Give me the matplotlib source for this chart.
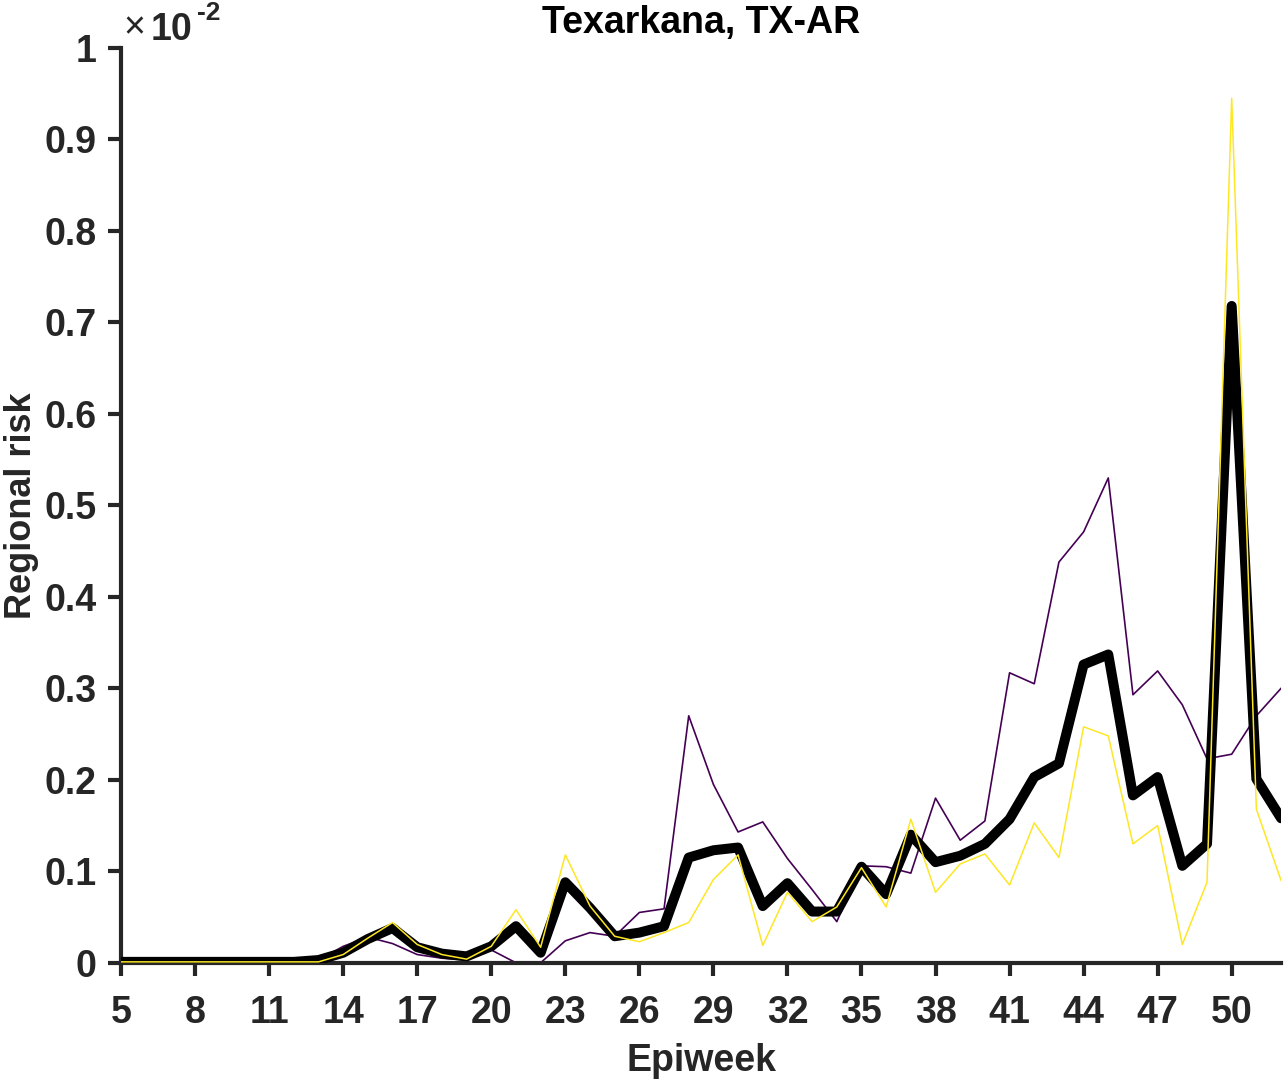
import numpy as np
import matplotlib.pyplot as plt

# Texarkana, TX-AR regional risk (x 1e-2)
weeks = np.arange(5, 53)

mean_risk = [0.001, 0.001, 0.001, 0.001, 0.001, 0.001, 0.001, 0.001,
             0.003, 0.011, 0.026, 0.038, 0.017, 0.010, 0.007, 0.018,
             0.040, 0.011, 0.088, 0.060, 0.029, 0.033, 0.040, 0.115,
             0.123, 0.126, 0.062, 0.087, 0.056, 0.056, 0.105, 0.075,
             0.140, 0.110, 0.117, 0.130, 0.157, 0.203, 0.218, 0.326,
             0.337, 0.183, 0.203, 0.106, 0.130, 0.718, 0.201, 0.158]

upper_risk = [0.001, 0.001, 0.001, 0.001, 0.001, 0.001, 0.001, 0.001,
              0.003, 0.018, 0.028, 0.021, 0.009, 0.005, 0.003, 0.014,
              0.000, 0.000, 0.024, 0.033, 0.029, 0.055, 0.059, 0.270,
              0.195, 0.143, 0.154, 0.114, 0.080, 0.045, 0.106, 0.105,
              0.098, 0.180, 0.134, 0.155, 0.317, 0.305, 0.438, 0.471,
              0.530, 0.293, 0.319, 0.282, 0.223, 0.228, 0.270, 0.300]

lower_risk = [0.001, 0.001, 0.001, 0.001, 0.001, 0.001, 0.001, 0.001,
              0.001, 0.009, 0.027, 0.044, 0.020, 0.009, 0.004, 0.018,
              0.058, 0.017, 0.118, 0.062, 0.029, 0.023, 0.033, 0.044,
              0.091, 0.118, 0.019, 0.077, 0.045, 0.061, 0.104, 0.061,
              0.157, 0.077, 0.108, 0.119, 0.085, 0.153, 0.115, 0.258,
              0.248, 0.130, 0.150, 0.020, 0.088, 0.945, 0.168, 0.090]

xticks = np.arange(5, 51, 3)
yticks = np.round(np.arange(0, 1.01, 0.1), 1)
ytick_labels = ['0'] + ['%.1f' % v for v in yticks[1:-1]] + ['1']

plt.rcParams['font.family'] = ['Liberation Sans', 'DejaVu Sans']
axis_color = '#262626'

fig = plt.figure(figsize=(12.88, 10.83), dpi=100)
ax = fig.add_axes([0.094, 0.111, 0.9006, 0.8447])

ax.plot(weeks, upper_risk, color='#440154', lw=1.2, zorder=2)
ax.plot(weeks, mean_risk, color='black', lw=7.2, solid_joinstyle='round',
        solid_capstyle='round', zorder=3)
ax.plot(weeks, lower_risk, color='#FDE725', lw=1.1, zorder=4)

ax.set_xlim(5, 52)
ax.set_ylim(0, 1)
ax.set_xticks(xticks)
ax.set_yticks(yticks)
ax.set_yticklabels(ytick_labels)

for side in ['top', 'right']:
    ax.spines[side].set_visible(False)
for side in ['left', 'bottom']:
    ax.spines[side].set_linewidth(3)
    ax.spines[side].set_color(axis_color)

ax.tick_params(direction='out', length=9.5, width=3, color=axis_color,
               labelsize=27, labelcolor=axis_color)
ax.tick_params(axis='x', pad=14)
ax.tick_params(axis='y', pad=8)
for lbl in ax.get_xticklabels() + ax.get_yticklabels():
    lbl.set_fontweight('bold')

ax.set_xlabel('Epiweek', fontsize=27, fontweight='bold', color=axis_color, labelpad=8)
ax.set_ylabel('Regional risk', fontsize=26, fontweight='bold', color=axis_color)
ax.yaxis.set_label_coords(-0.071, 0.5)
ax.set_title('Texarkana, TX-AR', fontsize=27, fontweight='bold', color='black', pad=11)

# exponent label in the MATLAB style
fig.text(0.096, 0.965, '\u00d7', fontsize=27, color=axis_color, va='baseline')
fig.text(0.117, 0.963, '10', fontsize=27, fontweight='bold', color=axis_color, va='baseline')
fig.text(0.153, 0.9815, '-2', fontsize=19, fontweight='bold', color=axis_color, va='baseline')

fig.savefig('out.png', dpi=100)
